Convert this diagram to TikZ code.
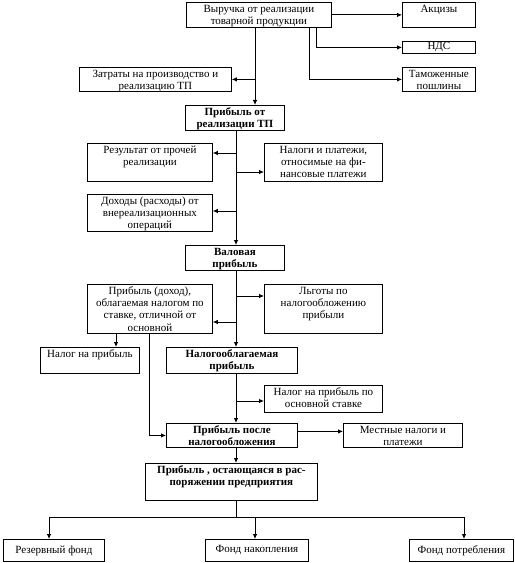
\documentclass[tikz,border=0pt]{standalone}
\usepackage{fontspec}
\setmainfont{Liberation Serif}
\usetikzlibrary{arrows.meta}
\newcommand\bxtext[3]{\parbox[c][#2][t]{#1}{\centering\rule{0pt}{9.8bp}#3\par}}
\begin{document}
\begin{tikzpicture}[x=1bp,y=-1bp,
  box/.style={draw, line width=0.8bp, inner sep=0pt, anchor=north west,
    font=\fontsize{11bp}{12.3bp}\selectfont},
  bbox/.style={box, font=\fontsize{11bp}{12.3bp}\selectfont\bfseries},
  arr/.style={line width=0.8bp, -{Latex[length=5bp,width=4.5bp]}},
  ln/.style={line width=0.8bp}]
\useasboundingbox (0,0) rectangle (515,563);
% boxes
\node[box]  (vyr)  at (186,2)   {\bxtext{145bp}{25bp}{Выручка от реализации\\товарной продукции}};
\node[box]  (akc)  at (402,2)   {\bxtext{73bp}{25bp}{Акцизы}};
\node[box]  (nds)  at (402,41)  {\parbox[c][12bp][c]{73bp}{\centering НДС}};
\node[box]  (tam)  at (402,67)  {\bxtext{73bp}{24bp}{Таможенные\\пошлины}};
\node[box]  (zat)  at (79,67)   {\bxtext{152bp}{24bp}{Затраты на производство и\\реализацию ТП}};
\node[bbox] (pr1)  at (185,105) {\bxtext{99bp}{25bp}{Прибыль от\\реализации ТП}};
\node[box]  (res)  at (87,143)  {\bxtext{125bp}{38bp}{Результат от прочей\\реализации}};
\node[box]  (nal)  at (264,143) {\bxtext{118bp}{38bp}{Налоги и платежи,\\относимые на фи-\\нансовые платежи}};
\node[box]  (doh)  at (87,194)  {\bxtext{125bp}{37bp}{Доходы (расходы) от\\внереализационных\\операций}};
\node[bbox] (val)  at (185,245) {\bxtext{99bp}{25bp}{Валовая\\прибыль}};
\node[box]  (pd)   at (87,284)  {\bxtext{125bp}{49bp}{Прибыль (доход),\\облагаемая налогом по\\ставке, отличной от\\основной}};
\node[box]  (lg)   at (264,284) {\bxtext{118bp}{49bp}{Льготы по\\налогообложению\\прибыли}};
\node[box]  (np)   at (40,347)  {\bxtext{99bp}{26bp}{Налог на прибыль}};
\node[bbox] (nob)  at (166,347) {\bxtext{131bp}{26bp}{Налогооблагаемая\\прибыль}};
\node[box]  (no)   at (264,385) {\bxtext{118bp}{27bp}{Налог на прибыль по\\основной ставке}};
\node[bbox] (pp)   at (166,423) {\bxtext{131bp}{24bp}{Прибыль после\\налогообложения}};
\node[box]  (mest) at (343,423) {\bxtext{119bp}{24bp}{Местные налоги и\\платежи}};
\node[bbox] (ost)  at (145,463) {\bxtext{172bp}{37bp}{Прибыль , остающаяся в рас-\\поряжении предприятия}};
\node[box]  (rez)  at (3,539)   {\parbox[c][22bp][c]{101bp}{\centering Резервный фонд}};
\node[box]  (nak)  at (205,539) {\parbox[c][22bp][c]{103bp}{\centering Фонд накопления}};
\node[box]  (potr) at (409,539) {\parbox[c][22bp][c]{104bp}{\centering Фонд потребления}};
% helper coordinates
\coordinate (xa) at (255,0);
\coordinate (xb) at (309,0);
\coordinate (xc) at (316,0);
\coordinate (xt) at (236,0);
\coordinate (x116) at (116,0);
\coordinate (x149) at (149,0);
\coordinate (b1) at (236,153);
\coordinate (b2) at (236,172);
\coordinate (b3) at (236,211);
\coordinate (b4) at (236,296);
\coordinate (b5) at (236,322);
\coordinate (b6) at (236,401);
\coordinate (dl) at (49,517);
\coordinate (dm) at (255,517);
\coordinate (dr) at (464,517);
% connectors
\draw[arr] (vyr.east) -- (akc.west);
\draw[arr] (vyr.south -| xc) |- (nds.west);
\draw[arr] (vyr.south -| xb) |- (tam.west);
\draw[arr] (vyr.south -| xa) -- (pr1.north -| xa);
\draw[arr] (zat.east -| xa) -- (zat.east);
\draw[arr] (pr1.south -| xt) -- (val.north -| xt);
\draw[arr] (b1) -- (b1 -| res.east);
\draw[arr] (b2) -- (b2 -| nal.west);
\draw[arr] (b3) -- (b3 -| doh.east);
\draw[arr] (val.south -| xt) -- (nob.north -| xt);
\draw[arr] (b4) -- (b4 -| lg.west);
\draw[arr] (b5) -- (b5 -| pd.east);
\draw[arr] (pd.south -| x116) -- (np.north -| x116);
\draw[arr] (pd.south -| x149) |- (pp.west);
\draw[arr] (nob.south -| xt) -- (pp.north -| xt);
\draw[arr] (b6) -- (b6 -| no.west);
\draw[arr] ([yshift=4bp]pp.east) -- ([yshift=4bp]pp.east -| mest.west);
\draw[arr] (pp.south -| xt) -- (ost.north -| xt);
\draw[ln] (ost.south -| xt) |- (dm);
\draw[ln] (dl) -- (dr);
\draw[arr] (dl) -- (dl |- rez.north);
\draw[arr] (dm) -- (dm |- nak.north);
\draw[arr] (dr) -- (dr |- potr.north);
\end{tikzpicture}
\end{document}
